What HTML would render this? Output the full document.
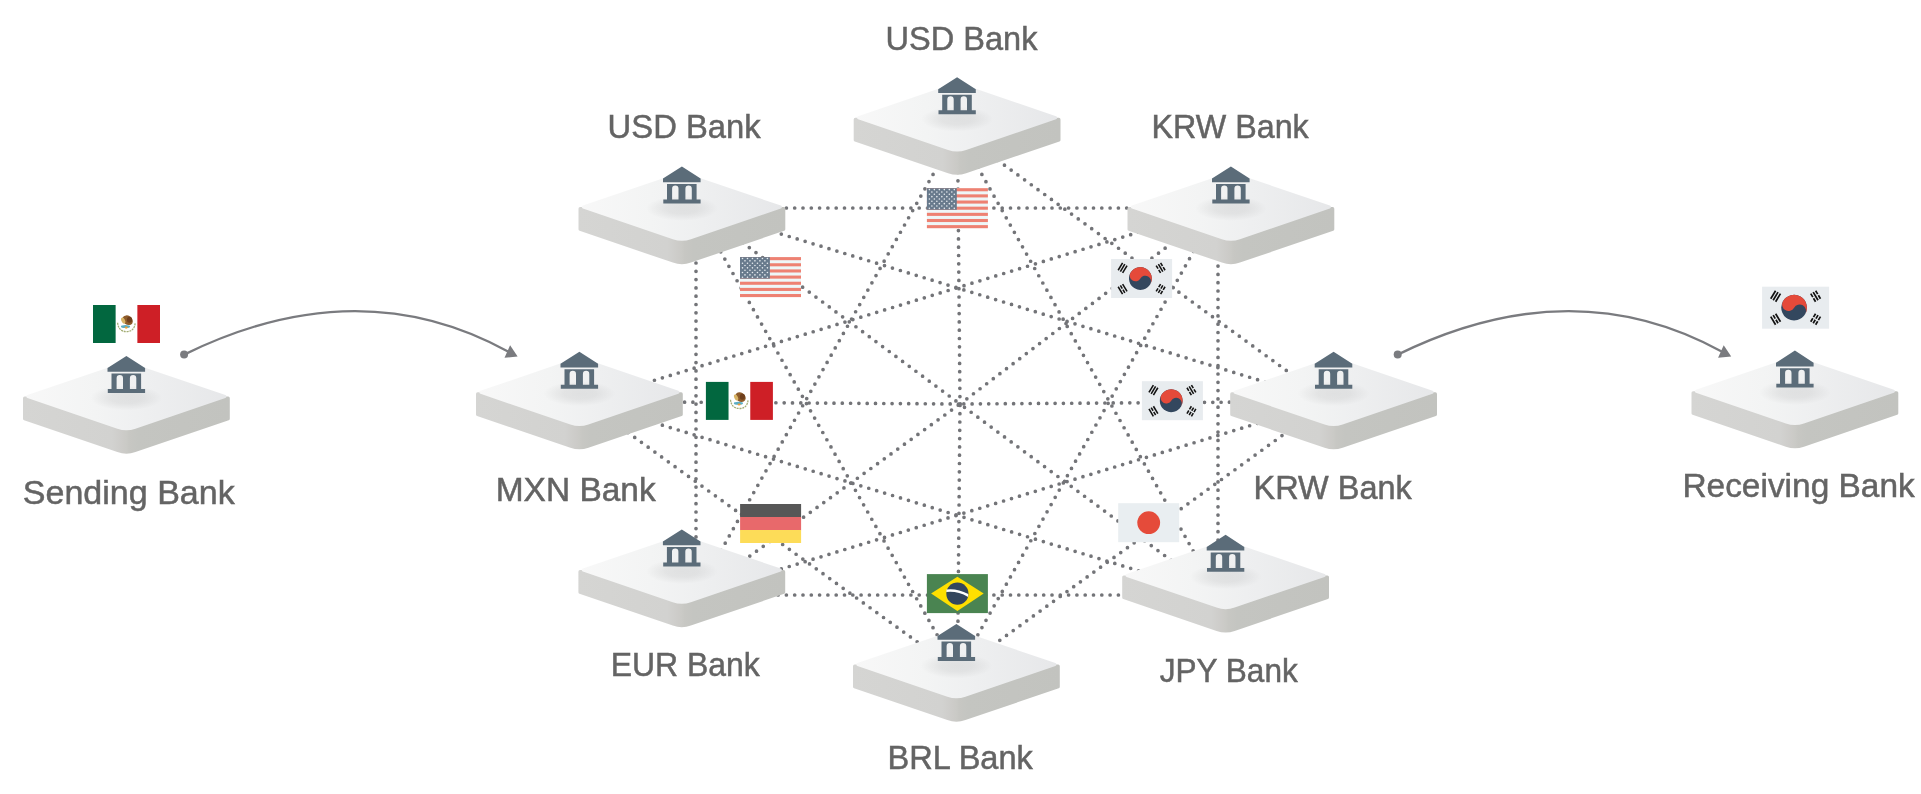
<!DOCTYPE html><html><head><meta charset="utf-8"><title>Bank network</title><style>
html,body{margin:0;padding:0;background:#fff;width:1921px;height:794px;overflow:hidden}
svg{position:absolute;left:0;top:0;display:block;will-change:transform}
text{font-family:"Liberation Sans",sans-serif;fill:#646464;stroke:#646464;stroke-width:0.5px}
</style></head><body>
<svg width="1921" height="794" viewBox="0 0 1921 794">
<defs>
<linearGradient id="gTop" gradientUnits="userSpaceOnUse" x1="-103" y1="-34" x2="103" y2="-34"><stop offset="0" stop-color="#f8f8f8"/><stop offset="0.35" stop-color="#f3f4f4"/><stop offset="0.6" stop-color="#eeeff0"/><stop offset="1" stop-color="#e6e7e9"/></linearGradient>
<linearGradient id="gSide" gradientUnits="userSpaceOnUse" x1="-103" y1="0" x2="103" y2="0"><stop offset="0" stop-color="#d5d5d3"/><stop offset="0.43" stop-color="#d2d2d0"/><stop offset="0.486" stop-color="#cccbc8"/><stop offset="0.5" stop-color="#cacac6"/><stop offset="0.514" stop-color="#c7c7c3"/><stop offset="0.557" stop-color="#c4c5c1"/><stop offset="1" stop-color="#c2c3bf"/></linearGradient>
<radialGradient id="gShadow"><stop offset="0" stop-color="#000" stop-opacity="0.07"/><stop offset="0.45" stop-color="#000" stop-opacity="0.06"/><stop offset="0.75" stop-color="#000" stop-opacity="0.028"/><stop offset="1" stop-color="#000" stop-opacity="0"/></radialGradient>
<g id="plat"><path d="M-103.40,-32.20 L-103.40,-11.64 A1.60,1.60 0 0 0 -102.32,-10.13 L-9.05,21.71 A28.00,28.00 0 0 0 9.05,21.71 L102.32,-10.13 A1.60,1.60 0 0 0 103.40,-11.64 L103.40,-32.20 A1.60,1.60 0 0 0 101.80,-33.80 L0.00,-33.80 L-101.80,-33.80 A1.60,1.60 0 0 0 -103.40,-32.20 Z" fill="url(#gSide)"/><path d="M-98.96,-35.31 L-9.05,-66.01 A28.00,28.00 0 0 1 9.05,-66.01 L98.96,-35.31 A1.60,1.60 0 0 1 98.96,-32.29 L9.05,-1.59 A28.00,28.00 0 0 1 -9.05,-1.59 L-98.96,-32.29 A1.60,1.60 0 0 1 -98.96,-35.31 Z" fill="url(#gTop)"/><ellipse cx="0" cy="-32.5" rx="36" ry="12.5" fill="url(#gShadow)"/></g>
<path id="bank" d="M0,0 L-18.9,12.1 L-18.9,15.8 L18.7,15.8 L18.7,12.1 Z M-14.9,17.6 L14.7,17.6 L14.7,33.1 L-14.9,33.1 Z M-9.8,33.1 L-9.8,22.3 A3.2,3.2 0 0 1 -3.4,22.3 L-3.4,33.1 Z M3.5,33.1 L3.5,22.3 A3.2,3.2 0 0 1 9.9,22.3 L9.9,33.1 Z M-18.6,33.1 L18.7,33.1 L18.7,37 L-18.6,37 Z" fill="#5b6c79" fill-rule="evenodd"/>
</defs>
<rect width="1921" height="794" fill="#fff"/>
<g stroke="#737478" stroke-width="3.7" stroke-linecap="round" stroke-dasharray="0 8.3" fill="none">
<line x1="957.5" y1="131.0" x2="1329.0" y2="401.5"/>
<line x1="957.5" y1="131.0" x2="1218.0" y2="595.0"/>
<line x1="957.5" y1="131.0" x2="960.0" y2="404.0"/>
<line x1="957.5" y1="671.0" x2="960.0" y2="404.0"/>
<line x1="957.5" y1="131.0" x2="696.0" y2="595.0"/>
<line x1="1218.0" y1="208.0" x2="1218.0" y2="595.0"/>
<line x1="1218.0" y1="208.0" x2="957.5" y2="671.0"/>
<line x1="1218.0" y1="208.0" x2="960.0" y2="404.0"/>
<line x1="696.0" y1="595.0" x2="960.0" y2="404.0"/>
<line x1="1218.0" y1="208.0" x2="585.0" y2="401.5"/>
<line x1="1218.0" y1="208.0" x2="696.0" y2="208.0"/>
<line x1="1329.0" y1="401.5" x2="957.5" y2="671.0"/>
<line x1="1329.0" y1="401.5" x2="696.0" y2="595.0"/>
<line x1="1329.0" y1="401.5" x2="960.0" y2="404.0"/>
<line x1="585.0" y1="401.5" x2="960.0" y2="404.0"/>
<line x1="1329.0" y1="401.5" x2="696.0" y2="208.0"/>
<line x1="1218.0" y1="595.0" x2="696.0" y2="595.0"/>
<line x1="1218.0" y1="595.0" x2="585.0" y2="401.5"/>
<line x1="1218.0" y1="595.0" x2="960.0" y2="404.0"/>
<line x1="696.0" y1="208.0" x2="960.0" y2="404.0"/>
<line x1="957.5" y1="671.0" x2="585.0" y2="401.5"/>
<line x1="957.5" y1="671.0" x2="696.0" y2="208.0"/>
<line x1="696.0" y1="595.0" x2="696.0" y2="208.0"/>
</g>
<use href="#plat" transform="translate(126.4,430.4)"/>
<use href="#bank" transform="translate(126.4,356.0)"/>
<use href="#plat" transform="translate(957.1,151.6)"/>
<use href="#bank" transform="translate(957.1,77.2)"/>
<use href="#plat" transform="translate(681.9,240.9)"/>
<use href="#bank" transform="translate(681.9,166.5)"/>
<use href="#plat" transform="translate(1230.9,240.9)"/>
<use href="#bank" transform="translate(1230.9,166.5)"/>
<use href="#plat" transform="translate(579.4,426.1)"/>
<use href="#bank" transform="translate(579.4,351.7)"/>
<use href="#plat" transform="translate(1333.6,426.1)"/>
<use href="#bank" transform="translate(1333.6,351.7)"/>
<use href="#plat" transform="translate(681.8,603.9)"/>
<use href="#bank" transform="translate(681.8,529.5)"/>
<use href="#plat" transform="translate(1225.6,609.2)"/>
<use href="#bank" transform="translate(1225.6,534.8)"/>
<use href="#plat" transform="translate(956.4,698.4)"/>
<use href="#bank" transform="translate(956.4,624.0)"/>
<use href="#plat" transform="translate(1794.9,425.0)"/>
<use href="#bank" transform="translate(1794.9,350.6)"/>
<g transform="translate(93.0,305.0)"><rect width="67.0" height="38.0" fill="#fff"/><rect width="22.63" height="38.0" fill="#02673f"/><rect x="44.37" width="22.63" height="38.0" fill="#ce1f26"/><path d="M24.6,17.8 Q25.5,26.5 33.5,26.6 Q41.5,26.5 42.2,17.8" fill="none" stroke="#a3ad74" stroke-width="1.3" stroke-dasharray="2 0.8"/><ellipse cx="34.6" cy="15.2" rx="5.6" ry="4.4" transform="rotate(35 34.6 15.2)" fill="#8d5b2a"/><ellipse cx="36.5" cy="14.8" rx="2.6" ry="3.0" fill="#6f3f1c"/><ellipse cx="30.2" cy="15.6" rx="1.8" ry="3.2" transform="rotate(-25 30.2 15.6)" fill="#d8b466"/><ellipse cx="32.5" cy="21.4" rx="4.6" ry="1.5" fill="#5aaec5"/><ellipse cx="33.2" cy="22.6" rx="1.6" ry="1.1" fill="#e9a13b"/></g>
<g transform="translate(705.9,381.9)"><rect width="67.0" height="38.0" fill="#fff"/><rect width="22.63" height="38.0" fill="#02673f"/><rect x="44.37" width="22.63" height="38.0" fill="#ce1f26"/><path d="M24.6,17.8 Q25.5,26.5 33.5,26.6 Q41.5,26.5 42.2,17.8" fill="none" stroke="#a3ad74" stroke-width="1.3" stroke-dasharray="2 0.8"/><ellipse cx="34.6" cy="15.2" rx="5.6" ry="4.4" transform="rotate(35 34.6 15.2)" fill="#8d5b2a"/><ellipse cx="36.5" cy="14.8" rx="2.6" ry="3.0" fill="#6f3f1c"/><ellipse cx="30.2" cy="15.6" rx="1.8" ry="3.2" transform="rotate(-25 30.2 15.6)" fill="#d8b466"/><ellipse cx="32.5" cy="21.4" rx="4.6" ry="1.5" fill="#5aaec5"/><ellipse cx="33.2" cy="22.6" rx="1.6" ry="1.1" fill="#e9a13b"/></g>
<g transform="translate(926.9,188.2)"><rect width="61.0" height="40.0" fill="#eef6f7"/><rect y="0.00" width="61.0" height="3.08" fill="#ee8172"/><rect y="6.15" width="61.0" height="3.08" fill="#ee8172"/><rect y="12.31" width="61.0" height="3.08" fill="#ee8172"/><rect y="18.46" width="61.0" height="3.08" fill="#ee8172"/><rect y="24.62" width="61.0" height="3.08" fill="#ee8172"/><rect y="30.77" width="61.0" height="3.08" fill="#ee8172"/><rect y="36.92" width="61.0" height="3.08" fill="#ee8172"/><rect width="29.89" height="21.54" fill="#687a8c"/><path d="M2.49,1.40h0.01M7.47,1.40h0.01M12.45,1.40h0.01M17.44,1.40h0.01M22.42,1.40h0.01M27.40,1.40h0.01M4.98,3.75h0.01M9.96,3.75h0.01M14.94,3.75h0.01M19.93,3.75h0.01M24.91,3.75h0.01M2.49,6.09h0.01M7.47,6.09h0.01M12.45,6.09h0.01M17.44,6.09h0.01M22.42,6.09h0.01M27.40,6.09h0.01M4.98,8.43h0.01M9.96,8.43h0.01M14.94,8.43h0.01M19.93,8.43h0.01M24.91,8.43h0.01M2.49,10.77h0.01M7.47,10.77h0.01M12.45,10.77h0.01M17.44,10.77h0.01M22.42,10.77h0.01M27.40,10.77h0.01M4.98,13.11h0.01M9.96,13.11h0.01M14.94,13.11h0.01M19.93,13.11h0.01M24.91,13.11h0.01M2.49,15.45h0.01M7.47,15.45h0.01M12.45,15.45h0.01M17.44,15.45h0.01M22.42,15.45h0.01M27.40,15.45h0.01M4.98,17.79h0.01M9.96,17.79h0.01M14.94,17.79h0.01M19.93,17.79h0.01M24.91,17.79h0.01M2.49,20.13h0.01M7.47,20.13h0.01M12.45,20.13h0.01M17.44,20.13h0.01M22.42,20.13h0.01M27.40,20.13h0.01" stroke="#e6ebef" stroke-width="1.6" stroke-linecap="round"/></g>
<g transform="translate(740.0,257.1)"><rect width="61.0" height="40.0" fill="#eef6f7"/><rect y="0.00" width="61.0" height="3.08" fill="#ee8172"/><rect y="6.15" width="61.0" height="3.08" fill="#ee8172"/><rect y="12.31" width="61.0" height="3.08" fill="#ee8172"/><rect y="18.46" width="61.0" height="3.08" fill="#ee8172"/><rect y="24.62" width="61.0" height="3.08" fill="#ee8172"/><rect y="30.77" width="61.0" height="3.08" fill="#ee8172"/><rect y="36.92" width="61.0" height="3.08" fill="#ee8172"/><rect width="29.89" height="21.54" fill="#687a8c"/><path d="M2.49,1.40h0.01M7.47,1.40h0.01M12.45,1.40h0.01M17.44,1.40h0.01M22.42,1.40h0.01M27.40,1.40h0.01M4.98,3.75h0.01M9.96,3.75h0.01M14.94,3.75h0.01M19.93,3.75h0.01M24.91,3.75h0.01M2.49,6.09h0.01M7.47,6.09h0.01M12.45,6.09h0.01M17.44,6.09h0.01M22.42,6.09h0.01M27.40,6.09h0.01M4.98,8.43h0.01M9.96,8.43h0.01M14.94,8.43h0.01M19.93,8.43h0.01M24.91,8.43h0.01M2.49,10.77h0.01M7.47,10.77h0.01M12.45,10.77h0.01M17.44,10.77h0.01M22.42,10.77h0.01M27.40,10.77h0.01M4.98,13.11h0.01M9.96,13.11h0.01M14.94,13.11h0.01M19.93,13.11h0.01M24.91,13.11h0.01M2.49,15.45h0.01M7.47,15.45h0.01M12.45,15.45h0.01M17.44,15.45h0.01M22.42,15.45h0.01M27.40,15.45h0.01M4.98,17.79h0.01M9.96,17.79h0.01M14.94,17.79h0.01M19.93,17.79h0.01M24.91,17.79h0.01M2.49,20.13h0.01M7.47,20.13h0.01M12.45,20.13h0.01M17.44,20.13h0.01M22.42,20.13h0.01M27.40,20.13h0.01" stroke="#e6ebef" stroke-width="1.6" stroke-linecap="round"/></g>
<g transform="translate(1111.1,259.0)"><rect width="61.0" height="39.0" fill="#e8ecef"/><g transform="translate(29.30,19.50) rotate(30)"><circle r="11.40" fill="#33475e"/><path d="M-11.40,0 A11.40,11.40 0 0 1 11.40,0 A5.70,5.70 0 0 0 0,0 A5.70,5.70 0 0 1 -11.40,0 Z" fill="#e54a3a"/></g><g transform="translate(11.50,8.90) rotate(-59.0)"><rect x="-4.30" y="-3.38" width="8.60" height="1.55" fill="#111"/><rect x="-4.30" y="-0.78" width="8.60" height="1.55" fill="#111"/><rect x="-4.30" y="1.83" width="8.60" height="1.55" fill="#111"/></g><g transform="translate(49.50,30.10) rotate(-59.0)"><rect x="-4.30" y="-3.38" width="3.65" height="1.55" fill="#111"/><rect x="0.65" y="-3.38" width="3.65" height="1.55" fill="#111"/><rect x="-4.30" y="-0.78" width="3.65" height="1.55" fill="#111"/><rect x="0.65" y="-0.78" width="3.65" height="1.55" fill="#111"/><rect x="-4.30" y="1.83" width="3.65" height="1.55" fill="#111"/><rect x="0.65" y="1.83" width="3.65" height="1.55" fill="#111"/></g><g transform="translate(49.50,8.90) rotate(59.0)"><rect x="-4.30" y="-3.38" width="3.65" height="1.55" fill="#111"/><rect x="0.65" y="-3.38" width="3.65" height="1.55" fill="#111"/><rect x="-4.30" y="-0.78" width="8.60" height="1.55" fill="#111"/><rect x="-4.30" y="1.83" width="3.65" height="1.55" fill="#111"/><rect x="0.65" y="1.83" width="3.65" height="1.55" fill="#111"/></g><g transform="translate(11.50,30.10) rotate(59.0)"><rect x="-4.30" y="-3.38" width="8.60" height="1.55" fill="#111"/><rect x="-4.30" y="-0.78" width="3.65" height="1.55" fill="#111"/><rect x="0.65" y="-0.78" width="3.65" height="1.55" fill="#111"/><rect x="-4.30" y="1.83" width="8.60" height="1.55" fill="#111"/></g></g>
<g transform="translate(1141.9,381.2)"><rect width="61.0" height="39.0" fill="#e8ecef"/><g transform="translate(29.30,19.50) rotate(30)"><circle r="11.40" fill="#33475e"/><path d="M-11.40,0 A11.40,11.40 0 0 1 11.40,0 A5.70,5.70 0 0 0 0,0 A5.70,5.70 0 0 1 -11.40,0 Z" fill="#e54a3a"/></g><g transform="translate(11.50,8.90) rotate(-59.0)"><rect x="-4.30" y="-3.38" width="8.60" height="1.55" fill="#111"/><rect x="-4.30" y="-0.78" width="8.60" height="1.55" fill="#111"/><rect x="-4.30" y="1.83" width="8.60" height="1.55" fill="#111"/></g><g transform="translate(49.50,30.10) rotate(-59.0)"><rect x="-4.30" y="-3.38" width="3.65" height="1.55" fill="#111"/><rect x="0.65" y="-3.38" width="3.65" height="1.55" fill="#111"/><rect x="-4.30" y="-0.78" width="3.65" height="1.55" fill="#111"/><rect x="0.65" y="-0.78" width="3.65" height="1.55" fill="#111"/><rect x="-4.30" y="1.83" width="3.65" height="1.55" fill="#111"/><rect x="0.65" y="1.83" width="3.65" height="1.55" fill="#111"/></g><g transform="translate(49.50,8.90) rotate(59.0)"><rect x="-4.30" y="-3.38" width="3.65" height="1.55" fill="#111"/><rect x="0.65" y="-3.38" width="3.65" height="1.55" fill="#111"/><rect x="-4.30" y="-0.78" width="8.60" height="1.55" fill="#111"/><rect x="-4.30" y="1.83" width="3.65" height="1.55" fill="#111"/><rect x="0.65" y="1.83" width="3.65" height="1.55" fill="#111"/></g><g transform="translate(11.50,30.10) rotate(59.0)"><rect x="-4.30" y="-3.38" width="8.60" height="1.55" fill="#111"/><rect x="-4.30" y="-0.78" width="3.65" height="1.55" fill="#111"/><rect x="0.65" y="-0.78" width="3.65" height="1.55" fill="#111"/><rect x="-4.30" y="1.83" width="8.60" height="1.55" fill="#111"/></g></g>
<g transform="translate(1762.1,286.7)"><rect width="67.0" height="42.0" fill="#e8ecef"/><g transform="translate(32.00,21.00) rotate(30)"><circle r="12.80" fill="#33475e"/><path d="M-12.80,0 A12.80,12.80 0 0 1 12.80,0 A6.40,6.40 0 0 0 0,0 A6.40,6.40 0 0 1 -12.80,0 Z" fill="#e54a3a"/></g><g transform="translate(13.50,9.50) rotate(-59.0)"><rect x="-4.70" y="-3.70" width="9.40" height="1.70" fill="#111"/><rect x="-4.70" y="-0.85" width="9.40" height="1.70" fill="#111"/><rect x="-4.70" y="2.00" width="9.40" height="1.70" fill="#111"/></g><g transform="translate(53.50,32.50) rotate(-59.0)"><rect x="-4.70" y="-3.70" width="4.05" height="1.70" fill="#111"/><rect x="0.65" y="-3.70" width="4.05" height="1.70" fill="#111"/><rect x="-4.70" y="-0.85" width="4.05" height="1.70" fill="#111"/><rect x="0.65" y="-0.85" width="4.05" height="1.70" fill="#111"/><rect x="-4.70" y="2.00" width="4.05" height="1.70" fill="#111"/><rect x="0.65" y="2.00" width="4.05" height="1.70" fill="#111"/></g><g transform="translate(53.50,9.50) rotate(59.0)"><rect x="-4.70" y="-3.70" width="4.05" height="1.70" fill="#111"/><rect x="0.65" y="-3.70" width="4.05" height="1.70" fill="#111"/><rect x="-4.70" y="-0.85" width="9.40" height="1.70" fill="#111"/><rect x="-4.70" y="2.00" width="4.05" height="1.70" fill="#111"/><rect x="0.65" y="2.00" width="4.05" height="1.70" fill="#111"/></g><g transform="translate(13.50,32.50) rotate(59.0)"><rect x="-4.70" y="-3.70" width="9.40" height="1.70" fill="#111"/><rect x="-4.70" y="-0.85" width="4.05" height="1.70" fill="#111"/><rect x="0.65" y="-0.85" width="4.05" height="1.70" fill="#111"/><rect x="-4.70" y="2.00" width="9.40" height="1.70" fill="#111"/></g></g>
<g transform="translate(740.1,504.0)"><rect width="61.0" height="13.30" fill="#575757"/><rect y="13.00" width="61.0" height="13.30" fill="#e8696b"/><rect y="26.00" width="61.0" height="13.00" fill="#fddc58"/></g>
<g transform="translate(1118.2,503.2)"><rect width="61.0" height="39.0" fill="#e9eef1"/><circle cx="30.50" cy="19.50" r="11.4" fill="#e54b3a"/></g>
<g transform="translate(926.9,574.1)"><rect width="61.0" height="39.0" fill="#4a8451"/><path d="M4.2,19.4 L30.5,2.7 L56.8,19.4 L30.5,37 Z" fill="#fedf00"/><circle cx="30.5" cy="19.6" r="11.1" fill="#33465e"/><path d="M19.6,15.4 Q30,14.0 41.4,20.0 L41.2,22.8 Q30,16.6 19.4,18.0 Z" fill="#fff"/></g>
<path d="M184.1,354.6 Q358.0,269.2 508.0,351.5" fill="none" stroke="#7a7b7f" stroke-width="2.3"/><circle cx="184.1" cy="354.6" r="4" fill="#7a7b7f"/><path d="M517.6,356.5 L504.5,357.8 L510.1,345.2 Z" fill="#7a7b7f"/>
<path d="M1397.7,354.6 Q1571.6,269.2 1721.6,351.5" fill="none" stroke="#7a7b7f" stroke-width="2.3"/><circle cx="1397.7" cy="354.6" r="4" fill="#7a7b7f"/><path d="M1731.2,356.5 L1718.1,357.8 L1723.7,345.2 Z" fill="#7a7b7f"/>
<text x="885.6" y="50.2" font-size="33.5" textLength="151.9" lengthAdjust="spacingAndGlyphs">USD Bank</text>
<text x="607.6" y="138.3" font-size="33.5" textLength="153.1" lengthAdjust="spacingAndGlyphs">USD Bank</text>
<text x="1151.6" y="138.3" font-size="33.5" textLength="157.1" lengthAdjust="spacingAndGlyphs">KRW Bank</text>
<text x="495.7" y="501.3" font-size="33.5" textLength="160.0" lengthAdjust="spacingAndGlyphs">MXN Bank</text>
<text x="1253.6" y="499.2" font-size="33.5" textLength="158.2" lengthAdjust="spacingAndGlyphs">KRW Bank</text>
<text x="610.7" y="676.3" font-size="33.5" textLength="149.0" lengthAdjust="spacingAndGlyphs">EUR Bank</text>
<text x="1159.7" y="682.4" font-size="33.5" textLength="138.1" lengthAdjust="spacingAndGlyphs">JPY Bank</text>
<text x="887.5" y="769.3" font-size="33.5" textLength="145.3" lengthAdjust="spacingAndGlyphs">BRL Bank</text>
<text x="22.8" y="504.1" font-size="33.5" textLength="211.9" lengthAdjust="spacingAndGlyphs">Sending Bank</text>
<text x="1682.4" y="497.2" font-size="33.5" textLength="232.4" lengthAdjust="spacingAndGlyphs">Receiving Bank</text>
</svg></body></html>
